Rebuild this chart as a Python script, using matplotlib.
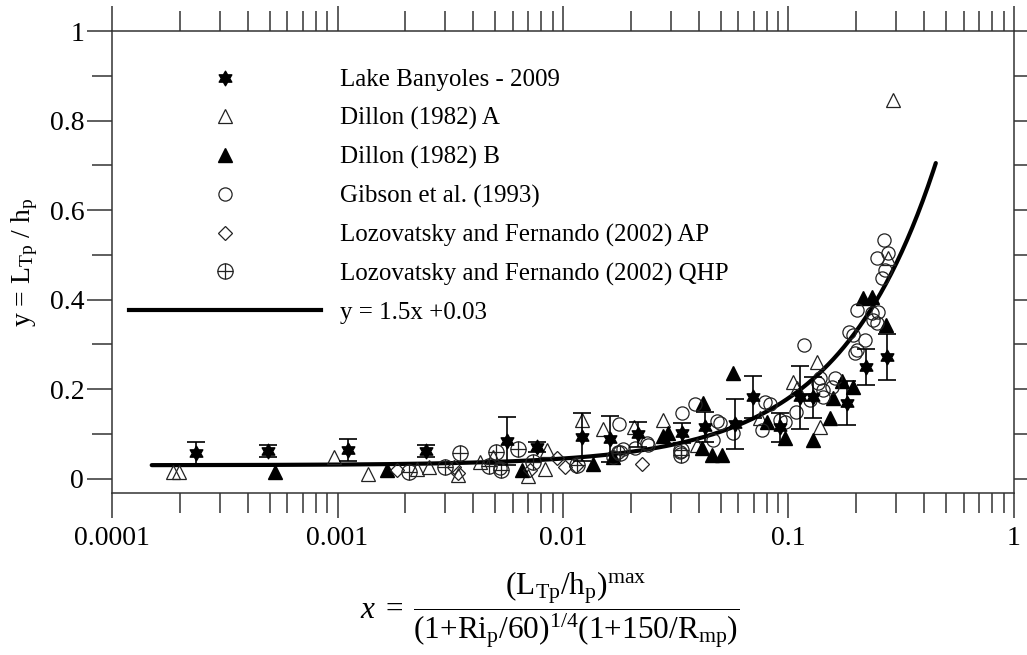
import numpy as np
import matplotlib
matplotlib.use('Agg')
import matplotlib.pyplot as plt
from matplotlib.path import Path
from matplotlib.lines import Line2D
from matplotlib.ticker import FuncFormatter, MultipleLocator, LogLocator, NullFormatter

plt.rcParams['font.family'] = 'Liberation Serif'
plt.rcParams['mathtext.fontset'] = 'custom'
plt.rcParams['mathtext.rm'] = 'Liberation Serif'
plt.rcParams['mathtext.it'] = 'Liberation Serif:italic'
plt.rcParams['mathtext.default'] = 'regular'

# Lake Banyoles - 2009 (with error bars)
lake_x = [2.36e-4, 4.9e-4, 1.11e-3, 2.47e-3, 5.65e-3, 7.67e-3, 0.0121, 0.0162, 0.0215, 0.0337,
          0.0426, 0.0579, 0.0696, 0.0917, 0.1125, 0.128, 0.182, 0.221, 0.274]
lake_y = [0.057, 0.062, 0.064, 0.062, 0.084, 0.070, 0.093, 0.088, 0.099, 0.102,
          0.115, 0.122, 0.182, 0.115, 0.182, 0.182, 0.169, 0.249, 0.272]
lake_err = [0.026, 0.013, 0.024, 0.014, 0.054, 0.011, 0.054, 0.051, 0.028, 0.022,
            0.034, 0.055, 0.047, 0.032, 0.070, 0.046, 0.050, 0.040, 0.052]

# Dillon (1982) A
dillon_a_x = [1.86e-4, 1.98e-4, 9.6e-4, 1.37e-3, 2.25e-3, 2.55e-3, 3.42e-3, 4.28e-3, 4.89e-3, 6.98e-3,
              8.45e-3, 8.36e-3, 0.0121, 0.0150, 0.0206, 0.0277, 0.0393, 0.0747, 0.1047, 0.109,
              0.134, 0.138, 0.276, 0.290]
dillon_a_y = [0.015, 0.015, 0.048, 0.010, 0.021, 0.026, 0.008, 0.037, 0.048, 0.006,
              0.064, 0.021, 0.131, 0.111, 0.115, 0.131, 0.075, 0.135, 0.216, 0.202,
              0.260, 0.115, 0.493, 0.846]

# Dillon (1982) B
dillon_b_x = [5.28e-4, 1.66e-3, 6.58e-3, 0.0136, 0.0167, 0.0277, 0.0292, 0.0417, 0.0413, 0.0458,
              0.0507, 0.0567, 0.080, 0.0965, 0.128, 0.153, 0.1575, 0.1726, 0.193, 0.214,
              0.2345, 0.271]
dillon_b_y = [0.015, 0.019, 0.019, 0.032, 0.048, 0.095, 0.102, 0.169, 0.068, 0.053,
              0.053, 0.236, 0.126, 0.091, 0.086, 0.135, 0.180, 0.218, 0.204, 0.403,
              0.406, 0.343]

# Gibson et al. (1993)
gibson_x = [5.26e-3, 0.0167, 0.0177, 0.0175, 0.0185, 0.0209, 0.0236, 0.0238, 0.0330, 0.0337,
            0.0385, 0.0462, 0.0482, 0.0496, 0.0567, 0.0762, 0.0785, 0.0828, 0.0917, 0.0965,
            0.108, 0.117, 0.125, 0.135, 0.138, 0.142, 0.142, 0.156, 0.161, 0.185,
            0.193, 0.197, 0.201, 0.201, 0.218, 0.2345, 0.237, 0.247, 0.249, 0.247,
            0.259, 0.265, 0.268, 0.276]
gibson_y = [0.023, 0.048, 0.122, 0.059, 0.066, 0.068, 0.079, 0.075, 0.059, 0.146,
            0.166, 0.086, 0.128, 0.124, 0.102, 0.108, 0.171, 0.166, 0.131, 0.126,
            0.149, 0.298, 0.175, 0.213, 0.225, 0.198, 0.182, 0.204, 0.225, 0.327,
            0.321, 0.280, 0.377, 0.287, 0.309, 0.370, 0.354, 0.347, 0.372, 0.493,
            0.448, 0.533, 0.466, 0.504]

# Lozovatsky and Fernando (2002) AP
ap_x = [1.84e-3, 3.28e-3, 3.42e-3, 7.12e-3, 9.4e-3, 0.0102, 0.0114, 0.0224]
ap_y = [0.019, 0.026, 0.012, 0.019, 0.046, 0.026, 0.028, 0.032]

# Lozovatsky and Fernando (2002) QHP
qhp_x = [2.07e-3, 3.0e-3, 3.49e-3, 4.69e-3, 5.04e-3, 5.31e-3, 6.32e-3, 7.36e-3, 0.0115, 0.0179,
         0.0333, 0.0333]
qhp_y = [0.015, 0.026, 0.057, 0.028, 0.059, 0.019, 0.066, 0.037, 0.030, 0.057,
         0.064, 0.053]

# fit y = 1.5x + 0.03
fit_slope = 1.5
fit_icept = 0.03
fit_xmin, fit_xmax = 1.5e-4, 0.45

labels = ['Lake Banyoles - 2009', 'Dillon (1982) A', 'Dillon (1982) B', 'Gibson et al. (1993)',
          'Lozovatsky and Fernando (2002) AP', 'Lozovatsky and Fernando (2002) QHP', 'y = 1.5x +0.03']

# marker shapes
ang = np.deg2rad(90 + 30 * np.arange(12))
rad = np.where(np.arange(12) % 2 == 0, 1.0, 1 / np.sqrt(3))
sv = np.column_stack([rad * np.cos(ang), rad * np.sin(ang)])
star = Path(np.vstack([sv, sv[:1]]), closed=True)
cross = Path([[-1, 0], [1, 0], [0, -1], [0, 1]], [Path.MOVETO, Path.LINETO, Path.MOVETO, Path.LINETO])
oplus = Path.make_compound_path(Path.unit_circle(), cross)

ec = '#222222'
open_kw = dict(ls='none', mfc='none', mec=ec, mew=0.9)

fig = plt.figure(figsize=(10.27, 6.55), dpi=100)
ax = fig.add_axes([0.10906, 0.24733, 0.87828, 0.70534])

fx = np.logspace(np.log10(fit_xmin), np.log10(fit_xmax), 300)
ax.plot(fx, fit_slope * fx + fit_icept, color='k', lw=3, zorder=1.5, solid_capstyle='round')

ax.plot(dillon_a_x, dillon_a_y, marker='^', ms=10.5, zorder=2, **open_kw)
ax.plot(dillon_b_x, dillon_b_y, ls='none', marker='^', ms=10, color='k', zorder=2)
ax.plot(gibson_x, gibson_y, marker='o', ms=9.5, zorder=2, **open_kw)
ax.plot(ap_x, ap_y, marker='D', ms=7.5, zorder=2, **open_kw)
ax.plot(qhp_x, qhp_y, marker=oplus, ms=11, zorder=2, **open_kw)
ax.errorbar(lake_x, lake_y, yerr=lake_err, fmt='none', ecolor='k', elinewidth=1.2,
            capsize=6.5, capthick=1.2, zorder=3)
ax.plot(lake_x, lake_y, ls='none', marker=star, ms=10.5, color='k', zorder=4)

handles = [
    Line2D([], [], ls='none', marker=star, ms=10.5, color='k'),
    Line2D([], [], marker='^', ms=10.5, **open_kw),
    Line2D([], [], ls='none', marker='^', ms=10, color='k'),
    Line2D([], [], marker='o', ms=9.5, **open_kw),
    Line2D([], [], marker='D', ms=7.5, **open_kw),
    Line2D([], [], marker=oplus, ms=11, **open_kw),
    Line2D([], [], color='k', lw=3),
]
ax.legend(handles, labels, loc='upper left', bbox_to_anchor=(0.0188, 0.918), frameon=False,
          fontsize=18, handlelength=7.7, handletextpad=0.76, labelspacing=0.63,
          borderpad=0, borderaxespad=0, numpoints=1)

ax.set_xscale('log')
ax.set_xlim(1e-4, 1)
ax.set_ylim(-0.032, 1)
ax.xaxis.set_major_locator(LogLocator(base=10, numticks=10))
ax.xaxis.set_minor_locator(LogLocator(base=10, subs=np.arange(2, 10), numticks=10))
ax.xaxis.set_minor_formatter(NullFormatter())
ax.xaxis.set_major_formatter(FuncFormatter(lambda v, p: f'{v:g}'))
ax.yaxis.set_major_locator(MultipleLocator(0.2))
ax.yaxis.set_minor_locator(MultipleLocator(0.1))
ax.yaxis.set_major_formatter(FuncFormatter(lambda v, p: f'{v:g}'))
ax.tick_params(which='both', direction='out', top=True, right=True, width=1.1,
               color='#333333', labelsize=20, pad=2)
ax.tick_params(axis='x', which='major', pad=6)
ax.tick_params(which='major', length=18)
ax.tick_params(which='minor', length=14.4)
for s in ax.spines.values():
    s.set_linewidth(1.1)
    s.set_color('#333333')

ax.set_ylabel(r'y = L$_{\mathrm{Tp}}$ / h$_{\mathrm{p}}$', fontsize=20)
ax.yaxis.set_label_coords(-0.08, 0.5)
ax.set_xlabel(r'$\mathit{x}\;=\;\dfrac{(\mathrm{L_{Tp}/h_p})^{max}}'
              r'{(1{+}\mathrm{Ri_p}/60)^{1/4}(1{+}150/\mathrm{R_{mp}})}$', fontsize=22.5)
ax.xaxis.set_label_coords(0.4856, -0.165)

fig.savefig('out.png', dpi=100)
